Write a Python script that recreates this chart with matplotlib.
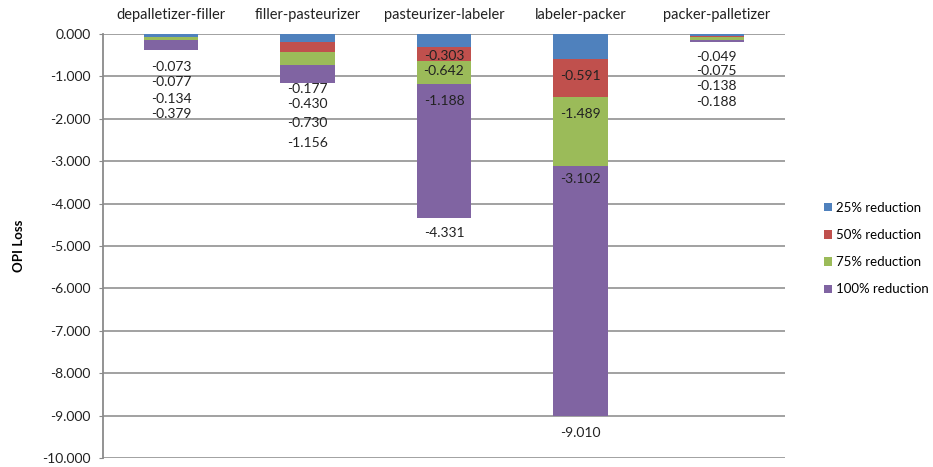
import matplotlib.pyplot as plt
import numpy as np

plt.rcParams['font.family'] = ['Lato', 'DejaVu Sans']

stations = ["depalletizer-filler", "filler-pasteurizer", "pasteurizer-labeler",
            "labeler-packer", "packer-palletizer"]
series = ["25% reduction", "50% reduction", "75% reduction", "100% reduction"]
red25 = [-0.073, -0.177, -0.303, -0.591, -0.049]
red50 = [-0.077, -0.430, -0.642, -1.489, -0.075]
red75 = [-0.134, -0.730, -1.188, -3.102, -0.138]
red100 = [-0.379, -1.156, -4.331, -9.010, -0.188]
colors = ["#4F81BD", "#C0504D", "#9BBB59", "#8064A2"]

# where each data label sits (y, in axis units), one row per station
label_y = [
    [-0.78, -1.13, -1.54, -1.89],
    [-1.30, -1.65, -2.10, -2.58],
    [-0.52, -0.87, -1.58, -4.70],
    [-0.99, -1.89, -3.43, -9.41],
    [-0.54, -0.87, -1.23, -1.61],
]

fig = plt.figure(figsize=(9.33, 4.67), dpi=100)
ax = fig.add_axes([103/933, 1-458/467, 682/933, 424/467])

x = np.arange(len(stations))
vals = [red25, red50, red75, red100]
# overlapped bars: biggest loss in the back
for i in [3, 2, 1, 0]:
    ax.bar(x, vals[i], width=0.4, color=colors[i], label=series[i], zorder=3 + (3 - i))

for j in range(len(stations)):
    for i in range(4):
        ax.text(x[j], label_y[j][i], "%.3f" % vals[i][j], ha="center", va="center",
                fontsize=10, color="#222222", zorder=10)

ax.set_xlim(-0.5, 4.5)
ax.set_ylim(-10, 0)
ax.set_yticks(np.arange(-10, 0.5, 1))
ax.set_yticklabels(["%.3f" % v for v in np.arange(-10, 0.5, 1)], fontsize=10, color="#222222")
ax.yaxis.grid(True, color="#9a9a9a", lw=1.3, zorder=0)
ax.tick_params(axis="y", length=3, color="#8a8a8a", pad=6)

ax.xaxis.tick_top()
ax.set_xticks(x)
ax.set_xticklabels(stations, fontsize=10.5, color="#222222")
ax.tick_params(axis="x", length=0, pad=9)

for s in ["top", "right", "bottom"]:
    ax.spines[s].set_visible(False)
ax.spines["left"].set_color("#8a8a8a")
ax.spines["left"].set_linewidth(1.3)

ax.set_ylabel("OPI Loss", fontsize=9.5, fontweight="bold", labelpad=12)

h, l = ax.get_legend_handles_labels()
order = [3, 2, 1, 0]
fig.legend([h[k] for k in order], [l[k] for k in order], loc="upper left",
           bbox_to_anchor=(812/933, 1-190/467), frameon=False, fontsize=9.5,
           handlelength=0.6, handleheight=0.6, handletextpad=0.3, labelspacing=1.15)

fig.savefig("out.png", dpi=100)
